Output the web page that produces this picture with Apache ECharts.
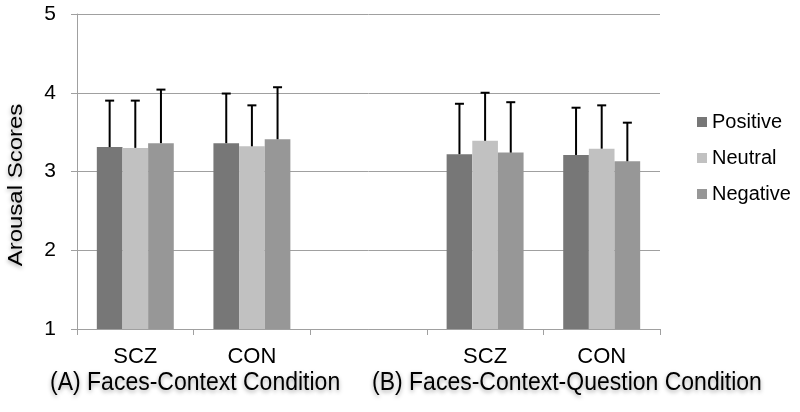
<!DOCTYPE html>
<html>
<head>
<meta charset="utf-8">
<script src="https://cdn.jsdelivr.net/npm/echarts@6/dist/echarts.min.js"></script>
<style>html,body{margin:0;padding:0;background:#fff;}#c{width:800px;height:412px;}</style>
</head>
<body>
<div id="c"></div>
<script>
var categories = ['SCZ', 'CON', '', 'SCZ', 'CON'];
var groupLabels = ['(A) Faces-Context Condition', '(B) Faces-Context-Question Condition'];
var yAxisTitle = 'Arousal Scores';
var seriesNames = ['Positive', 'Neutral', 'Negative'];
var positiveMean = [3.31, 3.36, null, 3.22, 3.21];
var neutralMean  = [3.30, 3.32, null, 3.39, 3.29];
var negativeMean = [3.36, 3.41, null, 3.24, 3.13];
var positiveSD = [0.59, 0.63, null, 0.64, 0.60];
var neutralSD  = [0.60, 0.52, null, 0.61, 0.55];
var negativeSD = [0.68, 0.66, null, 0.64, 0.49];
var yTicks = [1, 2, 3, 4, 5];

var colors = ['#777777', '#c1c1c1', '#979797'];
var means = [positiveMean, neutralMean, negativeMean];
var sds = [positiveSD, neutralSD, negativeSD];
var CAT_GAP = 0.34;
var FONT = 'Liberation Sans, Arial, sans-serif';
var SHADOW = { textShadowColor: 'rgba(0,0,0,0.35)', textShadowBlur: 4, textShadowOffsetY: 2 };

var series = [];
means.forEach(function (m, i) {
  series.push({
    name: seriesNames[i], type: 'bar', barGap: '0%', barCategoryGap: (CAT_GAP * 100) + '%',
    itemStyle: { color: colors[i] },
    data: m.map(function (v) { return v == null ? '-' : v; })
  });
});
means.forEach(function (m, i) {
  var data = [];
  m.forEach(function (v, k) { if (v != null) data.push([k, v, sds[i][k]]); });
  series.push({
    type: 'custom', name: seriesNames[i] + ' err', z: 5, silent: true,
    data: data,
    renderItem: function (params, api) {
      var k = api.value(0), v = api.value(1), sd = api.value(2);
      var catW = api.size([1, 0])[0];
      var barW = catW * (1 - CAT_GAP) / 3;
      var p0 = api.coord([k, v]);
      var p1 = api.coord([k, v + sd]);
      var x = p0[0] + (i - 1) * barW;
      var style = { stroke: '#000', lineWidth: 2 };
      return { type: 'group', children: [
        { type: 'line', shape: { x1: x, y1: p0[1], x2: x, y2: p1[1] }, style: style },
        { type: 'line', shape: { x1: x - 4.5, y1: p1[1], x2: x + 4.5, y2: p1[1] }, style: style }
      ]};
    }
  });
});

function groupText(txt, left) {
  return { type: 'text', left: left, top: 370, scaleY: 1.12, originY: 382,
    style: Object.assign({ text: txt, fontSize: 23, fill: '#000', fontFamily: FONT }, SHADOW) };
}

var chart = echarts.init(document.getElementById('c'), null, { renderer: 'canvas' });
chart.setOption({
  animation: false,
  textStyle: { fontFamily: FONT },
  grid: { left: 77, right: 140, top: 14, bottom: 83, containLabel: false, outerBoundsMode: 'none' },
  legend: {
    data: seriesNames, orient: 'vertical', left: 697, top: 112, itemGap: 16, padding: 0,
    itemWidth: 10, itemHeight: 10, icon: 'rect',
    textStyle: { fontSize: 20, color: '#000', fontFamily: FONT }
  },
  xAxis: {
    type: 'category', data: categories,
    axisLine: { lineStyle: { color: '#a0a0a0', width: 1 } },
    axisTick: { show: true, length: 6, lineStyle: { color: '#a0a0a0' } },
    axisLabel: { fontSize: 22, color: '#000', margin: 17, fontFamily: FONT }
  },
  yAxis: {
    type: 'value', min: 1, max: 5, interval: 1,
    axisLine: { show: true, lineStyle: { color: '#a0a0a0', width: 1 } },
    axisTick: { show: true, length: 6, lineStyle: { color: '#a0a0a0' } },
    axisLabel: { fontSize: 21, color: '#000', margin: 21, fontFamily: FONT,
      formatter: function (v) { return yTicks.indexOf(v) >= 0 ? String(v) : ''; } },
    splitLine: { lineStyle: { color: '#a0a0a0', width: 1 } }
  },
  graphic: [
    groupText(groupLabels[0], 50), groupText(groupLabels[1], 372),
    { type: 'text', x: 16, y: 185, rotation: Math.PI / 2, scaleX: 1.2,
      style: Object.assign({ text: yAxisTitle, fontSize: 20, fill: '#000', fontFamily: FONT,
        align: 'center', verticalAlign: 'middle' }, SHADOW) }
  ],
  series: series
});
</script>
</body>
</html>
